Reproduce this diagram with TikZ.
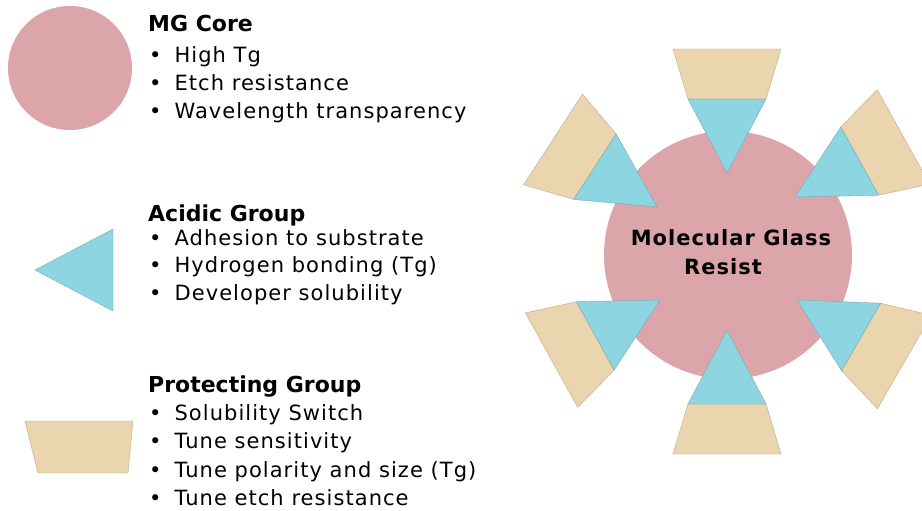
\documentclass[tikz,border=0pt]{standalone}
\usepackage{fontspec}
\setmainfont{DejaVu Sans}

\definecolor{coreclr}{RGB}{220,165,170}
\definecolor{acidclr}{RGB}{142,213,226}
\definecolor{protclr}{RGB}{235,213,174}

\newcommand{\itembul}{\textbullet\hspace{13pt}}

\begin{document}
\begin{tikzpicture}
[
	x=1pt,y=-1pt,
	core/.style={circle,fill=coreclr,inner sep=0},
	acid/.style={fill=acidclr,draw=acidclr!80!black,line width=0.4},
	prot/.style={fill=protclr,draw=protclr!80!black,line width=0.4},
	title/.style={anchor=base west,inner sep=0,font=\fontsize{22}{26}\selectfont\bfseries},
	item/.style={anchor=base west,inner sep=0,font=\fontsize{21}{28}\selectfont\addfontfeature{LetterSpace=5}}
]
\useasboundingbox (0,0) rectangle (922,511);

% legend
\node[core,minimum size=124pt] (mgcore) at (70,68) {};
\filldraw[acid] (35,270) -- (113,229) -- (113,311) -- cycle;
\filldraw[prot] (25,421) -- (133,421) -- (128,473) -- (38,473) -- cycle;

\node[title] (mgt) at (148,32) {MG Core};
\node[item] (mg1) at (149,63) {\itembul High Tg};
\node[item] (mg2) at (149,91) {\itembul Etch resistance};
\node[item] (mg3) at (149,119) {\itembul Wavelength transparency};

\node[title] (act) at (148,221) {Acidic Group};
\node[item] (ac1) at (149,245) {\itembul Adhesion to substrate};
\node[item] (ac2) at (149,272) {\itembul Hydrogen bonding (Tg)};
\node[item] (ac3) at (149,300) {\itembul Developer solubility};

\node[title] (prt) at (148,392) {Protecting Group};
\node[item] (pr1) at (149,420) {\itembul Solubility Switch};
\node[item] (pr2) at (149,448) {\itembul Tune sensitivity};
\node[item] (pr3) at (149,477) {\itembul Tune polarity and size (Tg)};
\node[item] (pr4) at (149,505) {\itembul Tune etch resistance};

% resist
\node[core,minimum size=248pt] (resist) at (728,255) {};

\foreach \tx/\ty/\ang in {727/173/90, 795/197/29, 797/300/-30, 727/330/-90, 660/300/209, 657/207/147}
{
	\begin{scope}[shift={(\tx,\ty)},rotate=\ang]
	\filldraw[prot] (74,-39) -- (124,-54) -- (124,54) -- (74,39) -- cycle;
	\filldraw[acid] (0,0) -- (74,-39) -- (74,39) -- cycle;
	\end{scope}
}

\node[align=center,inner sep=0,font=\fontsize{21}{29}\selectfont\bfseries\addfontfeature{LetterSpace=5}] (resistlbl) at (731,252) {Molecular Glass\\Resist\hspace*{16pt}};

\end{tikzpicture}
\end{document}
